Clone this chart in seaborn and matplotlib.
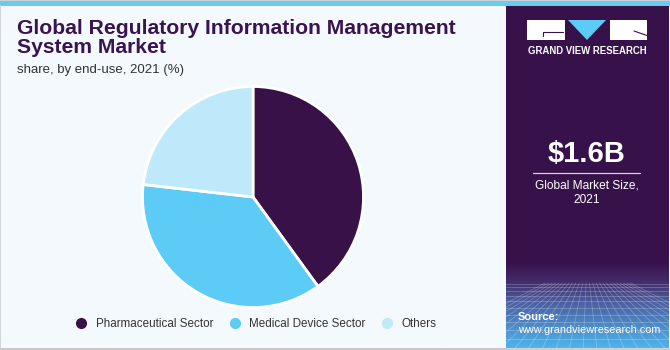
import numpy as np
import seaborn as sns
import matplotlib.pyplot as plt
from matplotlib.lines import Line2D
from matplotlib.patches import Rectangle, Polygon
from matplotlib.colors import LinearSegmentedColormap

# data
segments = ["Pharmaceutical Sector", "Medical Device Sector", "Others"]
shares = [40.0, 36.8, 23.2]
seg_colors = ["#371147", "#5CCBF6", "#BDE9FA"]

title = "Global Regulatory Information Management\nSystem Market"
subtitle = "share, by end-use, 2021 (%)"
market_size = "$1.6B"
market_label = "Global Market Size,\n2021"

BG = "#F4F9FD"
PURPLE = "#37114A"


def main():
    sns.set_theme(style="white")
    plt.rcParams['font.family'] = ['Liberation Sans', 'DejaVu Sans']
    palette = sns.color_palette(seg_colors)

    fig = plt.figure(figsize=(6.7, 3.5), dpi=100)
    fig.patch.set_facecolor(BG)

    # full-figure canvas in pixel units for the frame / side panel
    bg = fig.add_axes([0, 0, 1, 1])
    bg.set_xlim(0, 670)
    bg.set_ylim(350, 0)
    bg.axis("off")

    bg.add_patch(Rectangle((0, 0), 670, 1, color="#C9D3DA", lw=0))
    bg.add_patch(Rectangle((0, 1), 670, 4.5, color="#6CCAF0", lw=0))
    bg.add_patch(Rectangle((0, 348), 670, 2, color="#C8C8C8", lw=0))
    bg.add_patch(Rectangle((0, 5), 1.2, 343, color="#D0D6DA", lw=0))

    # right panel
    bg.add_patch(Rectangle((506, 5.5), 163, 342.5, color=PURPLE, lw=0))
    cmap = LinearSegmentedColormap.from_list(
        "gv", [(0, PURPLE), (0.25, "#43306F"), (0.45, "#4A5C9E"), (1, "#4FB4EC")])
    grad = np.linspace(0, 1, 200).reshape(-1, 1)
    bg.imshow(grad, cmap=cmap, aspect="auto", extent=[506, 669, 348, 262], zorder=1)
    # faint perspective grid
    for k in range(1, 12):
        y = 283 + 65 * (k / 11) ** 1.6
        bg.plot([506, 669], [y, y], color="white", alpha=0.25, lw=0.6, zorder=2)
    for xb in np.linspace(420, 760, 26):
        bg.plot([587 + (xb - 587) * 0.25, xb], [283, 348], color="white",
                alpha=0.25, lw=0.6, zorder=2)

    # logo
    bg.add_patch(Rectangle((527, 20), 38, 19.5, color="white", lw=0, zorder=3))
    bg.add_patch(Rectangle((610, 20), 37, 19.5, color="white", lw=0, zorder=3))
    bg.add_patch(Polygon([(568, 20), (606, 20), (587, 40)], closed=True,
                         color="#5CCBF6", lw=0, zorder=3))
    bg.plot([543, 563], [31.5, 31.5], color=PURPLE, lw=0.8, zorder=4)
    bg.plot([543, 543], [31.5, 36], color=PURPLE, lw=0.8, zorder=4)
    bg.plot([634, 647], [31, 35.5], color=PURPLE, lw=0.8, zorder=4)
    bg.text(587, 51, "GRAND VIEW RESEARCH", color="white", fontsize=6.9,
            fontweight="bold", ha="center", va="center", zorder=4)

    bg.text(587, 154, market_size, color="white", fontsize=21,
            fontweight="bold", ha="center", va="center", zorder=4)
    bg.plot([533, 640], [173, 173], color="#D8D0E0", lw=0.9, zorder=4)
    bg.text(587, 193, market_label, color="white", fontsize=8.6,
            ha="center", va="center", linespacing=1.25, zorder=4)
    bg.text(518, 317, "Source:", color="white", fontsize=8,
            fontweight="bold", ha="left", va="center", zorder=4)
    bg.text(518, 330, "www.grandviewresearch.com", color="white", fontsize=7.8,
            ha="left", va="center", zorder=4)

    # titles
    bg.text(17, 38, title, color="#3A1450", fontsize=15.2, fontweight="bold",
            ha="left", va="center", linespacing=1.05)
    bg.text(17, 70, subtitle, color="#333333", fontsize=9.5,
            ha="left", va="center")

    # pie
    cx, cy, r = 253, 197, 110.5
    ax = fig.add_axes([(cx - r) / 670, 1 - (cy + r) / 350, 2 * r / 670, 2 * r / 350])
    ax.pie(shares, colors=palette, startangle=90, counterclock=False,
           wedgeprops=dict(edgecolor="white", linewidth=2.0))
    ax.set_xlim(-1.0, 1.0)
    ax.set_ylim(-1.0, 1.0)
    ax.set_aspect("auto")
    ax.axis("off")

    handles = [Line2D([0], [0], marker="o", linestyle="", markersize=7,
                      markerfacecolor=c, markeredgecolor=c) for c in palette]
    fig.legend(handles, segments, loc="center", bbox_to_anchor=(253 / 670, 1 - 324 / 350),
               ncol=3, frameon=False, fontsize=8.4, handletextpad=0.25,
               columnspacing=0.85, labelcolor="#333333")

    plt.savefig("out.png", dpi=100, facecolor=fig.get_facecolor())


if __name__ == "__main__":
    main()
